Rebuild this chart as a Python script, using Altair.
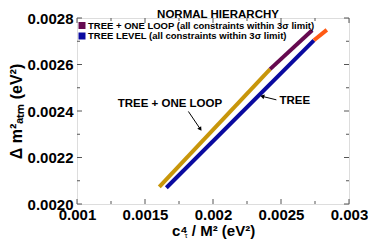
import altair as alt
import pandas as pd

# ---- data ----
loop_gold_x = [0.001605, 0.002420]
loop_gold_y = [0.002074, 0.002580]
loop_purple_x = [0.002420, 0.002729]
loop_purple_y = [0.002580, 0.002747]
tree_blue_x = [0.001657, 0.002742]
tree_blue_y = [0.002070, 0.002704]
tree_orange_x = [0.002742, 0.002837]
tree_orange_y = [0.002704, 0.002749]

x_major = [0.001, 0.0015, 0.002, 0.0025, 0.003]
x_minor = [0.00125, 0.00175, 0.00225, 0.00275]
y_major = [0.0020, 0.0022, 0.0024, 0.0026, 0.0028]
y_minor = [0.0021, 0.0023, 0.0025, 0.0027]

legend_labels = ["TREE + ONE LOOP (all constraints within 3\u03c3 limit)",
                 "TREE LEVEL (all constraints within 3\u03c3  limit)"]
legend_colors = ["#660a50", "#0a0aa0"]

ann_labels = ["TREE + ONE LOOP", "TREE"]
ann_x = [0.001683, 0.002601]
ann_y = [0.002431, 0.002444]

COL_GOLD = "#c8960a"
COL_PURPLE = "#660a50"
COL_BLUE = "#0a0aa0"
COL_ORANGE = "#ff5a14"

FONT = "Liberation Sans"
W, H = 272, 186

xs = alt.Scale(domain=[0.001, 0.003], nice=False, zero=False)
ys = alt.Scale(domain=[0.0020, 0.0028], nice=False, zero=False)

segs = []
for name, xx, yy, c in [("gold", loop_gold_x, loop_gold_y, COL_GOLD),
                        ("purple", loop_purple_x, loop_purple_y, COL_PURPLE),
                        ("blue", tree_blue_x, tree_blue_y, COL_BLUE),
                        ("orange", tree_orange_x, tree_orange_y, COL_ORANGE)]:
    for i, (a, b) in enumerate(zip(xx, yy)):
        segs.append({"seg": name, "x": a, "y": b, "o": i, "c": c})
seg_df = pd.DataFrame(segs)

base_x = alt.X("x:Q", scale=xs,
               axis=alt.Axis(values=x_major, format="~f", title="c\u2074  / M\u00b2 (eV\u00b2)",
                             ticks=False, domain=False, grid=False, labelFont=FONT,
                             labelFontSize=15, labelFontWeight="bold", labelColor="black",
                             labelPadding=3, labelFlush=False, labelOverlap=False,
                             titleFont=FONT, titleFontSize=15,
                             titleFontWeight="bold", titleColor="black", titlePadding=1))
base_y = alt.Y("y:Q", scale=ys,
               axis=alt.Axis(values=y_major, format=".4f", title="\u0394 m\u00b2\u2090\u209c\u2098 (eV\u00b2)",
                             ticks=False, domain=False, grid=False, labelFont=FONT,
                             labelFontSize=15, labelFontWeight="bold", labelColor="black",
                             labelPadding=4, labelFlush=False, labelOverlap=False,
                             titleFont=FONT, titleFontSize=16,
                             titleFontWeight="bold", titleColor="black", titlePadding=3))

lines = alt.Chart(seg_df).mark_line(strokeWidth=4, strokeCap="butt").encode(
    x=base_x, y=base_y, detail="seg:N", order="o:Q",
    color=alt.Color("c:N", scale=None))

# inward ticks
xt = pd.DataFrame([{"v": v, "len": 5} for v in x_major] + [{"v": v, "len": 3} for v in x_minor])
ytr = pd.DataFrame([{"v": v, "len": 5} for v in y_major] + [{"v": v, "len": 3} for v in y_minor])

tick_color = "#555555"
xb = alt.Chart(xt).transform_calculate(y0=f"{H}", y1=f"{H}-datum.len").mark_rule(
    color=tick_color, strokeWidth=1).encode(
    x=alt.X("v:Q", scale=xs), y=alt.Y("y0:Q", scale=None), y2="y1:Q")
xtop = alt.Chart(xt).transform_calculate(y0="0", y1="datum.len").mark_rule(
    color=tick_color, strokeWidth=1).encode(
    x=alt.X("v:Q", scale=xs), y=alt.Y("y0:Q", scale=None), y2="y1:Q")
yl = alt.Chart(ytr).transform_calculate(x0="0", x1="datum.len").mark_rule(
    color=tick_color, strokeWidth=1).encode(
    y=alt.Y("v:Q", scale=ys), x=alt.X("x0:Q", scale=None), x2="x1:Q")
yr = alt.Chart(ytr).transform_calculate(x0=f"{W}", x1=f"{W}-datum.len").mark_rule(
    color=tick_color, strokeWidth=1).encode(
    y=alt.Y("v:Q", scale=ys), x=alt.X("x0:Q", scale=None), x2="x1:Q")

# annotations
ann_text = pd.DataFrame({"x": ann_x, "y": ann_y, "t": ann_labels})
texts = alt.Chart(ann_text).mark_text(font=FONT, fontSize=11.5, fontWeight="bold",
                                      color="black").encode(
    x=alt.X("x:Q", scale=xs), y=alt.Y("y:Q", scale=ys), text="t:N")

arrows = pd.DataFrame({"x": [0.001819, 0.002466], "y": [0.002398, 0.002448],
                       "x2": [0.001907, 0.002362], "y2": [0.002322, 0.002463]})
arrow_lines = alt.Chart(arrows).mark_rule(color="black", strokeWidth=1).encode(
    x=alt.X("x:Q", scale=xs), y=alt.Y("y:Q", scale=ys), x2="x2:Q", y2="y2:Q")
heads = pd.DataFrame({"x": [0.001907, 0.002362], "y": [0.002322, 0.002463], "a": [146, 285]})
arrow_heads = alt.Chart(heads).mark_point(shape="triangle-up", filled=True, color="black",
                                          size=22, opacity=1).encode(
    x=alt.X("x:Q", scale=xs), y=alt.Y("y:Q", scale=ys),
    angle=alt.Angle("a:Q", scale=None))

# legend
leg = pd.DataFrame({"t": legend_labels, "c": legend_colors, "py": [7.5, 18]})
leg_sq = alt.Chart(leg).mark_square(size=49, filled=True, opacity=1).encode(
    x=alt.value(5), y=alt.Y("py:Q", scale=None), color=alt.Color("c:N", scale=None))
leg_tx = alt.Chart(leg).mark_text(font=FONT, fontSize=9.5, fontWeight="bold", align="left",
                                  baseline="middle", color="black").encode(
    x=alt.value(11), y=alt.Y("py:Q", scale=None), text="t:N")

title = alt.Chart(pd.DataFrame({"t": ["NORMAL HIERARCHY"]})).mark_text(
    font=FONT, fontSize=11.5, fontWeight="bold", color="black", baseline="middle").encode(
    x=alt.value(141), y=alt.value(-3.5), text="t:N")
tau = alt.Chart(pd.DataFrame({"t": ["\u03c4"]})).mark_text(
    font=FONT, fontSize=8, color="black", baseline="middle").encode(
    x=alt.value(W / 2 - 27), y=alt.value(H + 31.5), text="t:N")

chart = alt.layer(lines, xb, xtop, yl, yr, arrow_lines, arrow_heads, texts,
                  leg_sq, leg_tx, title, tau).properties(
    width=W, height=H, padding={"left": 69, "top": 10, "right": 19, "bottom": 36},
    autosize=alt.AutoSizeParams(type="none")
).configure_view(stroke="#888888", strokeWidth=1.5).configure(background="white")

chart.save("out.html", embed_options={"renderer": "svg", "actions": False})
